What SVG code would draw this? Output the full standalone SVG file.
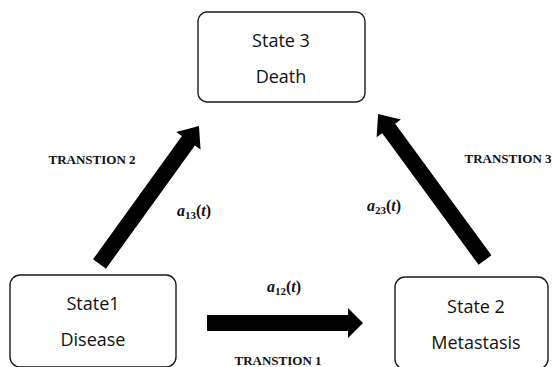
<svg xmlns="http://www.w3.org/2000/svg" width="556" height="367" viewBox="0 0 556 367">
<style>
.box{fill:#fff;stroke:#1a1a1a;stroke-width:1.4}
.lbl{font-family:"Open Sans","Noto Sans",sans-serif;font-size:18px;fill:#111;text-anchor:middle}
.tr{font-family:"Liberation Serif",serif;font-weight:bold;font-size:13px;fill:#111;text-anchor:middle}
.m{font-family:"Liberation Serif",serif;font-weight:bold;font-size:16px;fill:#111}
.arr{fill:#000}
</style>
<rect width="556" height="367" fill="#fff"/>
<g id="connectors">
<path class="arr" d="M207,315 H348 V308 L363,323 L348,338 V331 H207 Z"/>
<path class="arr" transform="translate(99.5,264) rotate(-54.2)" d="M0,-8 H152 V-15 L170,0 L152,15 V8 H0 Z"/>
<path class="arr" transform="translate(485,260) rotate(-126.2)" d="M0,-8 H163 V-15 L181,0 L163,15 V8 H0 Z"/>
<text class="tr" x="278" y="365">TRANSTION 1</text>
<text class="tr" x="92" y="164">TRANSTION 2</text>
<text class="tr" x="508" y="163">TRANSTION 3</text>
<text class="m" x="267" y="292"><tspan font-style="italic">a</tspan><tspan font-size="11" dy="3">12</tspan><tspan dy="-3">(</tspan><tspan font-style="italic">t</tspan>)</text>
<text class="m" x="177" y="216"><tspan font-style="italic">a</tspan><tspan font-size="11" dy="3">13</tspan><tspan dy="-3">(</tspan><tspan font-style="italic">t</tspan>)</text>
<text class="m" x="367" y="211"><tspan font-style="italic">a</tspan><tspan font-size="11" dy="3">23</tspan><tspan dy="-3">(</tspan><tspan font-style="italic">t</tspan>)</text>
</g>
<g id="state3">
<rect class="box" x="198" y="12" width="167" height="90" rx="9"/>
<text class="lbl" x="281" y="47">State 3</text>
<text class="lbl" x="281" y="83">Death</text>
</g>
<g id="state1">
<rect class="box" x="10" y="275" width="166" height="92" rx="10"/>
<text class="lbl" x="93" y="310">State1</text>
<text class="lbl" x="93" y="346">Disease</text>
</g>
<g id="state2">
<rect class="box" x="395" y="277" width="153" height="92" rx="10"/>
<text class="lbl" x="476" y="313">State 2</text>
<text class="lbl" x="476" y="349">Metastasis</text>
</g>
</svg>
